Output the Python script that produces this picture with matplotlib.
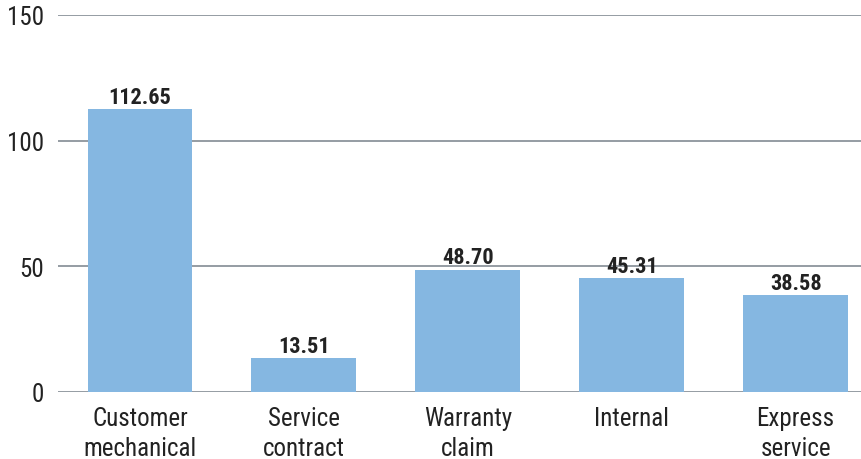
import matplotlib
matplotlib.use("Agg")
import matplotlib.pyplot as plt
from matplotlib import font_manager

categories = ["Customer\nmechanical", "Service\ncontract", "Warranty\nclaim", "Internal", "Express\nservice"]
values = [112.65, 13.51, 48.70, 45.31, 38.58]
yticks = [0, 50, 100, 150]

# condensed face like the original, whichever is installed
names = {f.name for f in font_manager.fontManager.ttflist}
fam = [n for n in ["Roboto Condensed", "Barlow Semi Condensed", "Archivo Narrow", "PT Sans Narrow"] if n in names]
plt.rcParams["font.family"] = fam[:1] + ["DejaVu Sans"]

bar_color = "#85b7e1"
grid_color = "#838b94"
text_color = "#222222"

fig = plt.figure(figsize=(8.62, 4.60), dpi=100)
ax = fig.add_axes([58 / 862, 67 / 460, 1 - 58 / 862, (393 - 16) / 460])

x = range(len(values))
bars = ax.bar(x, values, width=0.64, color=bar_color, zorder=2)
for b, v in zip(bars, values):
    ax.annotate(f"{v:.2f}", (b.get_x() + b.get_width() / 2, v), xytext=(0, 4.5),
                textcoords="offset points", ha="center", va="baseline",
                fontsize=16, fontweight="bold", color=text_color)

ax.set_ylim(0, 150)
ax.set_xlim(-0.5, 4.405)
ax.set_yticks(yticks)
ax.set_yticklabels([str(t) for t in yticks], fontsize=18, color=text_color)
ax.set_xticks(list(x))
ax.set_xticklabels(categories, fontsize=18, color=text_color, linespacing=1.3)
ax.tick_params(length=0)
ax.tick_params(axis="x", pad=10)
ax.tick_params(axis="y", pad=10)
ax.grid(axis="y", color=grid_color, linewidth=1.2, zorder=1)
ax.set_axisbelow(True)
for s in ax.spines.values():
    s.set_visible(False)

fig.savefig("out.png", dpi=100)
